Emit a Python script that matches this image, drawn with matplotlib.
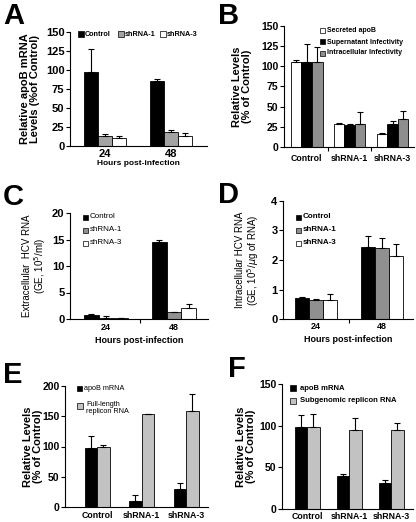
import matplotlib
matplotlib.use("Agg")
import matplotlib.pyplot as plt
import numpy as np
from matplotlib.patches import Rectangle

plt.rcParams['font.family'] = ['Liberation Sans', 'DejaVu Sans']

W, H = 416, 522

# ---------------- data ----------------
# Panel A
a_groups = ["24", "48"]
a_series = ["Control", "shRNA-1", "shRNA-3"]
a_vals = [[98, 85], [13, 18], [11, 13]]
a_errs = [[30, 3], [3, 3], [2, 4]]

# Panel B
b_groups = ["Control", "shRNA-1", "shRNA-3"]
b_series = ["Secreted apoB", "Supernatant Infectivity", "Intracellular Infectivity"]
b_vals = [[105, 29, 16], [105, 27, 29], [105, 29, 35]]
b_errs = [[3, 1, 1], [23, 1.5, 3], [19, 14, 10]]

# Panel C
c_groups = ["24", "48"]
c_series = ["Control", "shRNA-1", "shRNA-3"]
c_vals = [[0.7, 14.5], [0.2, 1.3], [0.15, 2.1]]
c_errs = [[0.3, 0.4], [0.3, 0.1], [0.1, 0.8]]

# Panel D
d_groups = ["24", "48"]
d_series = ["Control", "shRNA-1", "shRNA-3"]
d_vals = [[0.70, 2.45], [0.63, 2.40], [0.63, 2.15]]
d_errs = [[0.06, 0.38], [0.05, 0.35], [0.22, 0.38]]

# Panel E
e_groups = ["Control", "shRNA-1", "shRNA-3"]
e_series = ["apoB mRNA", "Full-length\nreplicon RNA"]
e_vals = [[98, 10, 30], [100, 153, 158]]
e_errs = [[20, 10, 10], [3, 1, 28]]

# Panel F
f_groups = ["Control", "shRNA-1", "shRNA-3"]
f_series = ["apoB mRNA", "Subgenomic replicon RNA"]
f_vals = [[98, 40, 31], [99, 95, 95]]
f_errs = [[15, 2, 4], [15, 14, 8]]

# ---------------- helpers ----------------
fig = plt.figure(figsize=(W / 100, H / 100), dpi=100)


def add_ax(l, t, r, b):
    return fig.add_axes([l / W, 1 - b / H, (r - l) / W, (b - t) / H])


def fx(x):
    return x / W


def fy(y):
    return 1 - y / H


def bars(ax, vals, errs, colors, width, lw_err=0.8):
    n = len(vals)
    x = np.arange(len(vals[0]))
    for i in range(n):
        off = (i - (n - 1) / 2) * width
        ax.bar(x + off, vals[i], width, color=colors[i], edgecolor='black',
               linewidth=0.6, zorder=2)
        ax.errorbar(x + off, vals[i], yerr=[np.zeros(len(errs[i])), errs[i]],
                    fmt='none', ecolor='black', elinewidth=lw_err, capsize=2.2,
                    capthick=lw_err, zorder=3)
    return x


def style(ax, ylim, yticks, xlim, groups, tick_fs=7.5, xtick_fs=7.5, mid_ticks=True, xpad=2):
    ax.set_ylim(*ylim)
    ax.set_yticks(yticks)
    ax.set_xlim(*xlim)
    ax.set_xticks(np.arange(len(groups)))
    ax.set_xticklabels(groups)
    for s in ['top', 'right']:
        ax.spines[s].set_visible(False)
    for s in ['left', 'bottom']:
        ax.spines[s].set_linewidth(0.8)
    ax.tick_params(axis='y', direction='out', length=3, width=0.8,
                   labelsize=tick_fs, pad=1)
    ax.tick_params(axis='x', which='major', length=0, labelsize=xtick_fs, pad=xpad)
    if mid_ticks:
        ax.set_xticks(np.arange(len(groups) - 1) + 0.5, minor=True)
        ax.tick_params(axis='x', which='minor', direction='out', length=3, width=0.8)
    for lab in ax.get_yticklabels() + ax.get_xticklabels():
        lab.set_fontweight('bold')


def ylab(ax, text, xpix, fs, weight='bold'):
    ax.set_ylabel(text, fontsize=fs, fontweight=weight, linespacing=1.1)
    ax.yaxis.label.set_va('center')
    bb = ax.get_position()
    ax.yaxis.set_label_coords((fx(xpix) - bb.x0) / bb.width, 0.5)


def legend(entries, colors, xbox, ys, fs, weight='bold', box=6, textx=None):
    if textx is None:
        textx = xbox + box + 2
    for (lab, c, y) in zip(entries, colors, ys):
        fig.patches.append(Rectangle((fx(xbox), fy(y + box / 2)), box / W, box / H,
                                     transform=fig.transFigure, facecolor=c,
                                     edgecolor='black', linewidth=0.5))
        fig.text(fx(textx), fy(y), lab, fontsize=fs, fontweight=weight,
                 va='center', ha='left', linespacing=1.0)


def letter(t, x, y):
    fig.text(fx(x), fy(y), t, fontsize=21, fontweight='bold', va='center', ha='left')


# ---------------- Panel A ----------------
ax = add_ax(70, 32, 207, 146)
bars(ax, a_vals, a_errs, ['black', '#a3a3a3', 'white'], 0.21)
style(ax, (0, 150), range(0, 151, 25), (-0.53, 1.55), a_groups, tick_fs=8, xtick_fs=8,
      mid_ticks=False)
ax.set_xlabel("Hours post-infection", fontsize=6, fontweight='bold', labelpad=1)
ylab(ax, "Relative apoB mRNA\nLevels (%of Control)", 30, 8)
for lab, c, xb in zip(a_series, ['black', '#a3a3a3', 'white'], [78, 118, 160]):
    fig.patches.append(Rectangle((fx(xb), fy(37)), 6 / W, 6 / H, transform=fig.transFigure,
                                 facecolor=c, edgecolor='black', linewidth=0.5))
    fig.text(fx(xb + 7), fy(34), lab, fontsize=5.2, fontweight='bold', va='center')
letter("A", 3, 16)

# ---------------- Panel B ----------------
ax = add_ax(284, 26, 414, 147)
bars(ax, b_vals, b_errs, ['white', 'black', '#8e8e8e'], 0.245)
style(ax, (0, 150), range(0, 151, 25), (-0.53, 2.5), b_groups, tick_fs=7.5, xtick_fs=6.3,
      xpad=5)
ylab(ax, "Relative Levels\n(% of Control)", 242, 8)
legend(b_series, ['white', 'black', '#8e8e8e'], 320, [30, 42, 53], 5.0, box=5)
letter("B", 218, 16)

# ---------------- Panel C ----------------
ax = add_ax(70, 213, 208, 319)
bars(ax, c_vals, c_errs, ['black', '#909090', 'white'], 0.22)
style(ax, (0, 20), range(0, 21, 5), (-0.53, 1.5), c_groups, tick_fs=8, xtick_fs=6.5, xpad=3)
ax.set_xlabel("Hours post-infection", fontsize=6.5, fontweight='bold', labelpad=3)
ylab(ax, "Extracellular  HCV RNA\n(GE, 10$^5$/ml)", 35, 7, weight='normal')
legend(c_series, ['black', '#909090', 'white'], 83, [217, 230, 243], 5.8, weight='normal', box=5)
letter("C", 3, 197)

# ---------------- Panel D ----------------
ax = add_ax(283, 201, 413, 319)
bars(ax, d_vals, d_errs, ['black', '#909090', 'white'], 0.21)
style(ax, (0, 4), range(0, 5), (-0.5, 1.47), d_groups, tick_fs=8, xtick_fs=6.5, xpad=2)
ax.set_xlabel("Hours post-infection", fontsize=6.5, fontweight='bold', labelpad=3)
ylab(ax, "Intracellular HCV RNA\n(GE, 10$^5$/$\\mu$g of RNA)", 248, 7, weight='normal')
legend(d_series, ['black', '#909090', 'white'], 296, [217, 230, 243], 5.8, weight='semibold', box=5)
letter("D", 218, 195)

# ---------------- Panel E ----------------
ax = add_ax(65, 386, 208, 507)
bars(ax, e_vals, e_errs, ['black', '#c2c2c2'], 0.28)
style(ax, (0, 200), range(0, 201, 50), (-0.72, 2.49), e_groups, tick_fs=7.5, xtick_fs=6.3,
      mid_ticks=False, xpad=3)
ylab(ax, "Relative Levels\n(% of Control)", 33, 8)
legend(["apoB mRNA"], ['black'], 77, [388], 5.2, weight='normal', box=5)
legend(["Full-length\nreplicon RNA"], ['#c2c2c2'], 77, [408], 5.2, weight='normal', box=6, textx=86)
fig.patches[-1].set_xy((fx(77), fy(408.5)))
letter("E", 3, 375)

# ---------------- Panel F ----------------
ax = add_ax(282, 384, 413, 509)
bars(ax, f_vals, f_errs, ['black', '#c2c2c2'], 0.3)
style(ax, (0, 150), range(0, 151, 50), (-0.6, 2.52), f_groups, tick_fs=7.5, xtick_fs=6.3,
      mid_ticks=False, xpad=2)
ylab(ax, "Relative Levels\n(% of Control)", 246, 8)
legend(f_series, ['black', '#c2c2c2'], 290, [388, 401], 5.5, weight='semibold', box=6, textx=300)
letter("F", 228, 369)

fig.savefig("out.png", dpi=100)
